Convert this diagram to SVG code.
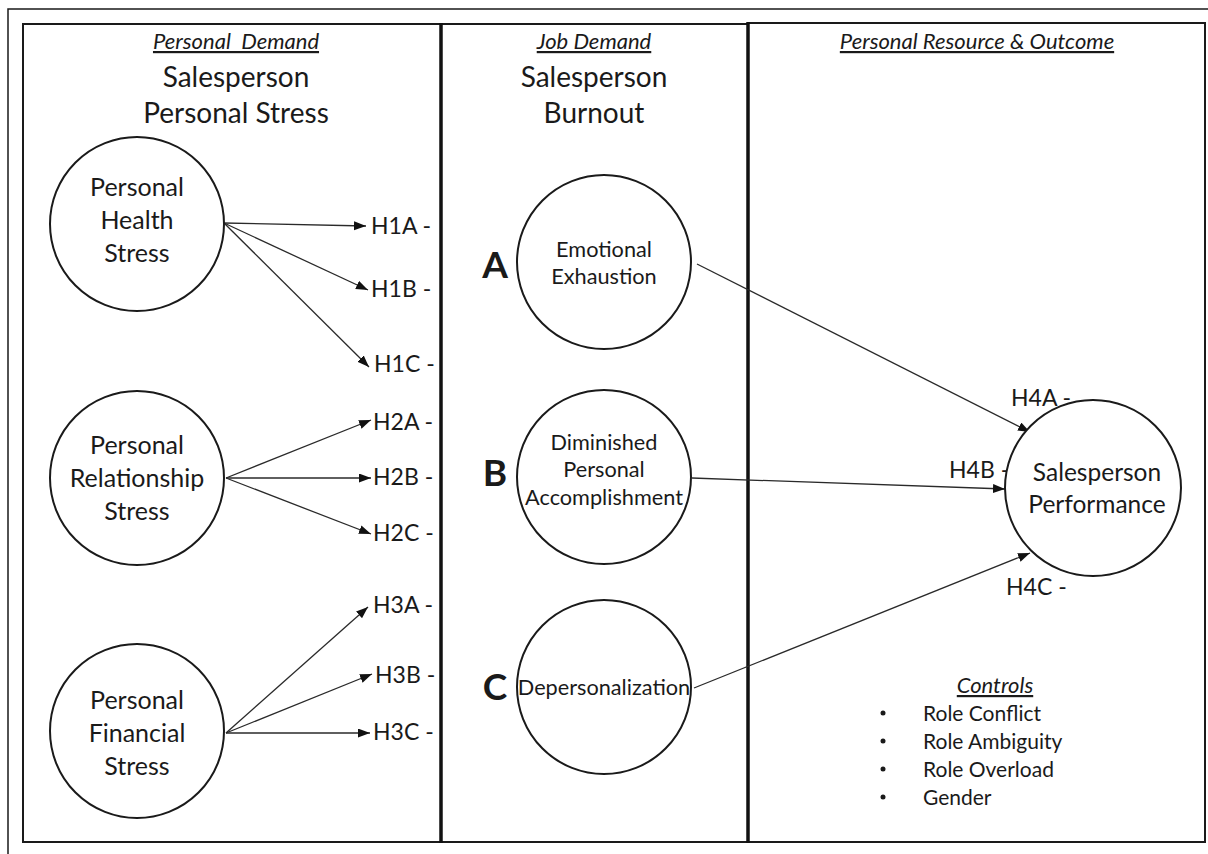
<svg xmlns="http://www.w3.org/2000/svg" width="1208" height="854" viewBox="0 0 1208 854">
<style>
  .t { font-family: Lato, "Open Sans", "Liberation Sans", sans-serif; fill: #1a1a1a; }
  .hd { font-size: 22px; font-style: italic; text-decoration: underline; }
  .big { font-size: 28px; }
  .lc { font-size: 25px; }
  .pc { font-size: 24.5px; }
  .mc { font-size: 21.7px; }
  .h { font-size: 23px; }
  .ctl { font-size: 21px; }
  .abc { font-size: 37px; font-weight: bold; }
  .node { fill: #ffffff; stroke: #1a1a1a; stroke-width: 2; }
  .panel { fill: none; stroke: #1a1a1a; stroke-width: 2; }
  .div { stroke: #111; stroke-width: 3.5; }
  .edge { stroke: #2a2a2a; stroke-width: 1.3; fill: none; marker-end: url(#arr); }
</style>
<defs>
  <marker id="arr" markerUnits="userSpaceOnUse" markerWidth="13" markerHeight="10" refX="12" refY="4.5" orient="auto">
    <path d="M0,0 L12,4.5 L0,9 z" fill="#111"/>
  </marker>
</defs>
<rect width="1208" height="854" fill="#ffffff"/>
<rect x="8" y="9" width="1212" height="860" fill="none" stroke="#1a1a1a" stroke-width="1.5"/>

<g id="panels">
  <rect class="panel" x="23" y="24" width="418" height="818"/>
  <rect class="panel" x="441" y="24" width="307" height="818"/>
  <rect class="panel" x="748" y="23" width="457" height="819"/>
  <line class="div" x1="441" y1="23" x2="441" y2="843"/>
  <line class="div" x1="748" y1="22" x2="748" y2="843"/>
</g>

<g id="headers" class="t" text-anchor="middle">
  <text class="hd" x="236" y="49" xml:space="preserve">Personal  Demand</text>
  <text class="big" x="236" y="87">Salesperson</text>
  <text class="big" x="236" y="123">Personal Stress</text>
  <text class="hd" x="594" y="49">Job Demand</text>
  <text class="big" x="594" y="87">Salesperson</text>
  <text class="big" x="594" y="123">Burnout</text>
  <text class="hd" x="977" y="49">Personal Resource &amp; Outcome</text>
</g>

<g id="connectors">
  <line class="edge" x1="224" y1="223" x2="366" y2="226"/>
  <line class="edge" x1="224" y1="223" x2="368" y2="290"/>
  <line class="edge" x1="224" y1="223" x2="369" y2="367"/>
  <line class="edge" x1="226" y1="478" x2="371" y2="420"/>
  <line class="edge" x1="226" y1="478" x2="371" y2="478"/>
  <line class="edge" x1="226" y1="478" x2="371" y2="534"/>
  <line class="edge" x1="226" y1="733" x2="368" y2="607"/>
  <line class="edge" x1="226" y1="733" x2="372" y2="674"/>
  <line class="edge" x1="226" y1="733" x2="370" y2="733"/>
  <line class="edge" x1="697" y1="264" x2="1030" y2="432"/>
  <line class="edge" x1="692" y1="478" x2="1005" y2="489"/>
  <line class="edge" x1="694" y1="688" x2="1030" y2="553"/>
</g>

<g id="hlabels" class="t h">
  <text x="371" y="234">H1A -</text>
  <text x="371" y="297">H1B -</text>
  <text x="374" y="372">H1C -</text>
  <text x="373" y="430">H2A -</text>
  <text x="373" y="485">H2B -</text>
  <text x="373" y="541">H2C -</text>
  <text x="373" y="613">H3A -</text>
  <text x="375" y="683">H3B -</text>
  <text x="373" y="740">H3C -</text>
  <text x="1011" y="406">H4A -</text>
  <text x="949" y="478">H4B -</text>
  <text x="1006" y="595">H4C -</text>
</g>

<g id="health" class="t lc" text-anchor="middle">
  <circle class="node" cx="137" cy="224" r="87"/>
  <text x="137" y="196">Personal</text>
  <text x="137" y="229">Health</text>
  <text x="137" y="262">Stress</text>
</g>
<g id="relationship" class="t lc" text-anchor="middle">
  <circle class="node" cx="137" cy="478" r="87"/>
  <text x="137" y="454">Personal</text>
  <text x="137" y="487">Relationship</text>
  <text x="137" y="520">Stress</text>
</g>
<g id="financial" class="t lc" text-anchor="middle">
  <circle class="node" cx="137" cy="731" r="87"/>
  <text x="137" y="709">Personal</text>
  <text x="137" y="742">Financial</text>
  <text x="137" y="775">Stress</text>
</g>

<g id="emotional" class="t" text-anchor="middle">
  <circle class="node" cx="604" cy="262" r="87"/>
  <text class="mc" x="604" y="257">Emotional</text>
  <text class="mc" x="604" y="284">Exhaustion</text>
  <text class="abc" x="495" y="278">A</text>
</g>
<g id="diminished" class="t" text-anchor="middle">
  <circle class="node" cx="604" cy="477" r="87"/>
  <text class="mc" x="604" y="450">Diminished</text>
  <text class="mc" x="604" y="477">Personal</text>
  <text class="mc" x="604" y="505">Accomplishment</text>
  <text class="abc" x="495" y="486">B</text>
</g>
<g id="depersonalization" class="t" text-anchor="middle">
  <circle class="node" cx="604" cy="687" r="87"/>
  <text class="mc" x="604" y="695">Depersonalization</text>
  <text class="abc" x="495" y="700">C</text>
</g>

<g id="performance" class="t pc" text-anchor="middle">
  <circle class="node" cx="1093" cy="488" r="88"/>
  <text x="1097" y="481">Salesperson</text>
  <text x="1097" y="513">Performance</text>
</g>

<g id="controls" class="t ctl">
  <text class="hd" x="995" y="693" text-anchor="middle">Controls</text>
  <circle cx="883" cy="713" r="2.5" fill="#1a1a1a"/>
  <circle cx="883" cy="741" r="2.5" fill="#1a1a1a"/>
  <circle cx="883" cy="769" r="2.5" fill="#1a1a1a"/>
  <circle cx="883" cy="797" r="2.5" fill="#1a1a1a"/>
  <text x="923" y="721">Role Conflict</text>
  <text x="923" y="749">Role Ambiguity</text>
  <text x="923" y="777">Role Overload</text>
  <text x="923" y="805">Gender</text>
</g>
</svg>
